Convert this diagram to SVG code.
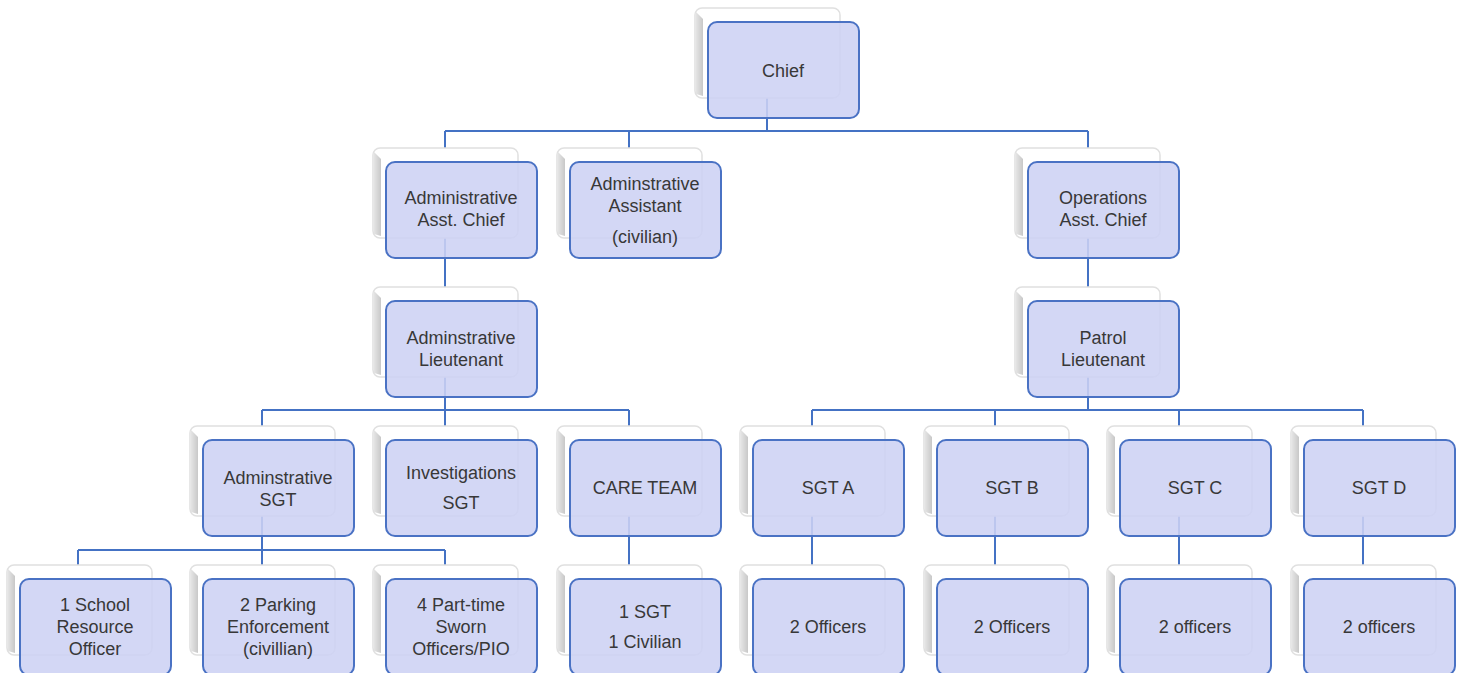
<svg xmlns="http://www.w3.org/2000/svg" width="1461" height="673" viewBox="0 0 1461 673">
<defs>
<style>
.sh{fill:#ffffff;stroke:#e0e0e0;stroke-width:1.5}
.bv{fill:url(#bvg)}
.bx{fill:#cdd1f4;fill-opacity:0.88;stroke:#4a72c4;stroke-width:2}
.t{font-family:"Liberation Sans",Arial,sans-serif;font-size:18px;fill:#383838;text-anchor:middle}
.c{fill:none;stroke:#4472c4;stroke-width:2}
</style>
<linearGradient id="bvg" x1="0" y1="0" x2="1" y2="0">
<stop offset="0" stop-color="#e4e4e4"/>
<stop offset="1" stop-color="#c8c8c8"/>
</linearGradient>
<g id="card">
<rect class="sh" x="-13" y="-14" width="145" height="90" rx="7"/>
<polygon class="bv" points="-12,-10 -5,-3 -5,74 -12,72"/>
<rect class="bx" x="0" y="0" width="151" height="96" rx="9"/>
</g>
</defs>
<rect width="1461" height="673" fill="#ffffff"/>
<g id="connectors">
<path class="c" d="M767,98 V131 M445,131 H1088 M445,131 V148 M629,131 V148 M1088,131 V148"/>
<path class="c" d="M445,238 V287 M1088,238 V287"/>
<path class="c" d="M445,377 V410 M262,410 H629 M262,410 V426 M445,410 V426 M629,410 V426"/>
<path class="c" d="M1088,377 V410 M812,410 H1363 M812,410 V426 M995,410 V426 M1179,410 V426 M1363,410 V426"/>
<path class="c" d="M262,516 V550 M78,550 H445 M78,550 V565 M262,550 V565 M445,550 V565"/>
<path class="c" d="M629,516 V565 M812,516 V565 M995,516 V565 M1179,516 V565 M1363,516 V565"/>
</g>
<g id="chief"><use href="#card" x="708" y="22"/><text class="t" x="783" y="77">Chief</text></g>
<g id="admin-asst-chief"><use href="#card" x="386" y="162"/><text class="t" x="461" y="204">Administrative</text><text class="t" x="461" y="226">Asst. Chief</text></g>
<g id="admin-assistant"><use href="#card" x="570" y="162"/><text class="t" x="645" y="190">Adminstrative</text><text class="t" x="645" y="212">Assistant</text><text class="t" x="645" y="243">(civilian)</text></g>
<g id="ops-asst-chief"><use href="#card" x="1028" y="162"/><text class="t" x="1103" y="204">Operations</text><text class="t" x="1103" y="226">Asst. Chief</text></g>
<g id="admin-lt"><use href="#card" x="386" y="301"/><text class="t" x="461" y="344">Adminstrative</text><text class="t" x="461" y="366">Lieutenant</text></g>
<g id="patrol-lt"><use href="#card" x="1028" y="301"/><text class="t" x="1103" y="344">Patrol</text><text class="t" x="1103" y="366">Lieutenant</text></g>
<g id="admin-sgt"><use href="#card" x="203" y="440"/><text class="t" x="278" y="484">Adminstrative</text><text class="t" x="278" y="506">SGT</text></g>
<g id="inv-sgt"><use href="#card" x="386" y="440"/><text class="t" x="461" y="479">Investigations</text><text class="t" x="461" y="509">SGT</text></g>
<g id="care-team"><use href="#card" x="570" y="440"/><text class="t" x="645" y="494">CARE TEAM</text></g>
<g id="sgt-a"><use href="#card" x="753" y="440"/><text class="t" x="828" y="494">SGT A</text></g>
<g id="sgt-b"><use href="#card" x="937" y="440"/><text class="t" x="1012" y="494">SGT B</text></g>
<g id="sgt-c"><use href="#card" x="1120" y="440"/><text class="t" x="1195" y="494">SGT C</text></g>
<g id="sgt-d"><use href="#card" x="1304" y="440"/><text class="t" x="1379" y="494">SGT D</text></g>
<g id="sro"><use href="#card" x="20" y="579"/><text class="t" x="95" y="611">1 School</text><text class="t" x="95" y="633">Resource</text><text class="t" x="95" y="655">Officer</text></g>
<g id="parking"><use href="#card" x="203" y="579"/><text class="t" x="278" y="611">2 Parking</text><text class="t" x="278" y="633">Enforcement</text><text class="t" x="278" y="655">(civillian)</text></g>
<g id="part-time"><use href="#card" x="386" y="579"/><text class="t" x="461" y="611">4 Part-time</text><text class="t" x="461" y="633">Sworn</text><text class="t" x="461" y="655">Officers/PIO</text></g>
<g id="care-staff"><use href="#card" x="570" y="579"/><text class="t" x="645" y="618">1 SGT</text><text class="t" x="645" y="648">1 Civilian</text></g>
<g id="officers-a"><use href="#card" x="753" y="579"/><text class="t" x="828" y="633">2 Officers</text></g>
<g id="officers-b"><use href="#card" x="937" y="579"/><text class="t" x="1012" y="633">2 Officers</text></g>
<g id="officers-c"><use href="#card" x="1120" y="579"/><text class="t" x="1195" y="633">2 officers</text></g>
<g id="officers-d"><use href="#card" x="1304" y="579"/><text class="t" x="1379" y="633">2 officers</text></g>
</svg>
